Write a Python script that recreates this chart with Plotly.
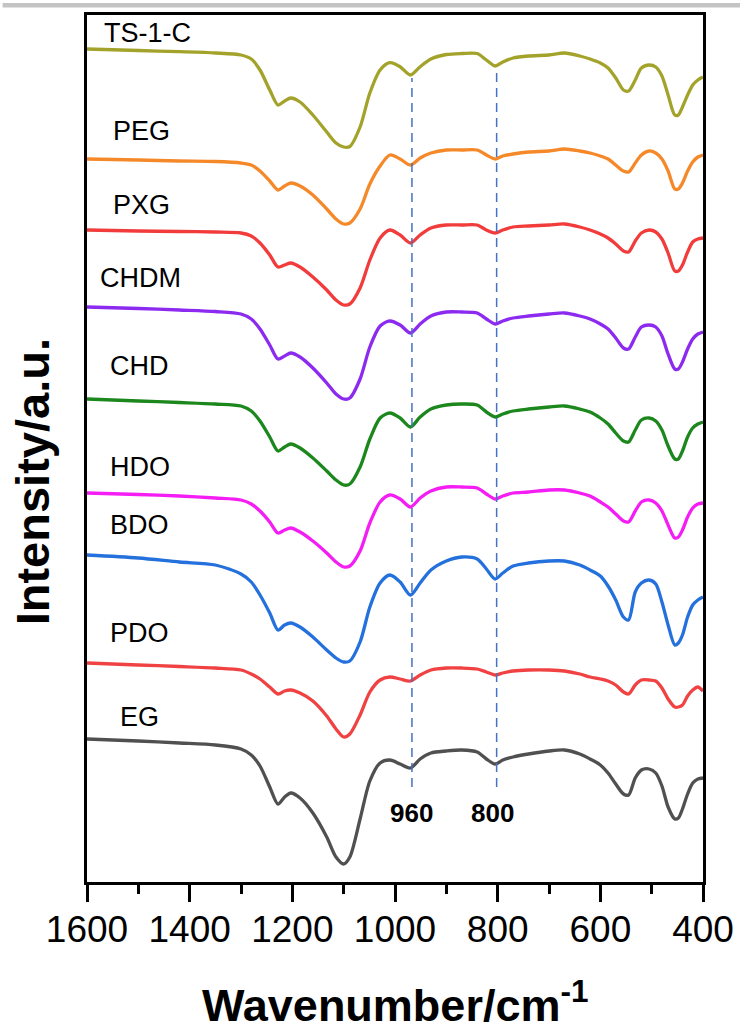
import plotly.graph_objects as go

# Wavenumber grid (cm^-1) shared by all spectra
wavenumber = [1600, 1500, 1420, 1350, 1300, 1280, 1263, 1244, 1228, 1215, 1203, 1185, 1160,
              1133, 1115, 1100, 1088, 1068, 1049, 1029, 1010, 990, 970, 951, 930, 900, 870,
              840, 822, 805, 790, 770, 740, 700, 670, 640, 620, 600, 585, 570, 555, 545,
              532, 520, 505, 492, 480, 468, 455, 448, 440, 430, 420, 410, 400]

# Spectra relative to their own level at 1600 cm^-1 (a.u.)
ts1c = [0, -1.5, -2.7, -4, -6, -10, -21, -41, -56, -52, -49, -53, -66,
        -83, -94, -98, -97.5, -78, -44, -21, -13.7, -17.7, -26, -17.7, -10, -5.5, -4.5,
        -4.5, -11, -17, -13, -9, -7, -6, -4, -7, -10, -14, -19, -29, -41, -42,
        -31, -19, -16, -18, -27, -46, -66, -66, -58, -46, -36, -31, -28]
peg = [0, -1, -2, -2.5, -4, -6, -12, -22, -31, -27, -24, -27, -36,
       -50, -60, -65, -64, -50, -25, -7, 4, 0, -6, 1, 6, 9, 9,
       9, 4, 0, 3, 5, 7, 8, 10, 8, 6, 3, 0, -6, -12, -13,
       -4, 4, 8, 6, 0, -12, -30, -30, -24, -12, -3, 2, 4]
pxg = [0, -1, -1.5, -2, -3, -6, -13, -25, -37, -35, -33, -37, -47,
       -60, -70, -75, -74, -58, -30, -8, 0, -5, -13, -5, 2, 5, 5,
       5, 0, -3, 0, 3, 4, 5, 6, 3, 0, -4, -8, -14, -21, -22,
       -11, -3, 0, -2, -9, -23, -41, -41, -35, -22, -12, -9, -8]
chdm = [0, -1.5, -3, -4.5, -7, -12, -22, -38, -52, -49, -46, -50, -61,
        -76, -87, -92, -91, -72, -40, -19, -14, -18, -26, -17, -9, -5, -5,
        -6, -12, -17, -14, -11, -9, -7, -6, -9, -12, -17, -22, -31, -41, -42,
        -30, -20, -18, -20, -29, -47, -62, -62, -55, -42, -32, -27, -25]
chd = [0, -2, -3.5, -5, -7, -12, -22, -38, -52, -48, -45, -49, -59,
       -72, -81, -86, -85, -68, -40, -19, -14, -19, -28, -18, -10, -6, -5,
       -6, -13, -18, -15, -12, -10, -8, -7, -10, -13, -19, -25, -34, -42, -43,
       -31, -21, -19, -22, -31, -47, -60, -60, -52, -38, -29, -25, -23]
hdo = [0, -1.5, -3, -5, -7, -11, -18, -29, -40, -37, -35, -39, -48,
       -60, -69, -74, -73, -58, -30, -9, -2, -6, -14, -5, 2, 6, 6,
       5, -1, -6, -3, 0, 1, 3, 3, 0, -3, -9, -14, -21, -28, -29,
       -18, -9, -7, -10, -18, -32, -45, -44, -37, -24, -15, -11, -10]
bdo = [0, -3, -7, -10, -19, -27, -40, -58, -75, -70, -68, -72, -82,
       -95, -103, -107, -106, -87, -52, -28, -20, -27, -40, -28, -15, -6, -2,
       -4, -14, -24, -18, -11, -8, -6, -6, -10, -15, -21, -31, -45, -62, -65,
       -37, -28, -25, -29, -47, -70, -90, -88, -80, -62, -50, -45, -42]
pdo = [0, -2, -3.5, -5, -7, -11, -16, -24, -31, -28, -27, -30, -38,
       -53, -66, -74, -71, -52, -29, -17, -14, -16, -18, -12, -7, -5, -5,
       -6, -9, -12, -10, -8, -7, -7, -8, -11, -14, -16, -18, -22, -29, -31,
       -22, -17, -17, -18, -25, -36, -44, -44, -42, -33, -27, -24, -28]
eg = [0, -2, -4, -6, -10, -16, -27, -48, -65, -58, -54, -59, -74,
      -98, -118, -125, -118, -80, -42, -24, -21, -25, -29, -20, -14, -12, -11,
      -13, -20, -25, -21, -18, -15, -12, -11, -15, -20, -26, -34, -45, -55, -56,
      -39, -31, -30, -34, -47, -68, -80, -79, -70, -55, -44, -40, -39]

names = ["TS-1-C", "PEG", "PXG", "CHDM", "CHD", "HDO", "BDO", "PDO", "EG"]
offsets = [833, 723, 652, 575, 483, 389, 327, 219, 143]
series = [ts1c, peg, pxg, chdm, chd, hdo, bdo, pdo, eg]
colors = ["#A3A32B", "#F5892A", "#F23C3C", "#8C2AF0", "#1C871C",
          "#F41EF4", "#2470DC", "#F04242", "#505050"]

# label anchor (left edge wavenumber, intensity)
label_pos = [(1571, 849), (1554, 751), (1554, 677), (1579, 604), (1559, 516),
             (1559, 415), (1559, 357), (1559, 249), (1540, 165)]

marker_lines = [967, 802]
marker_labels = ["960", "800"]
marker_text_x = [967, 811]

xticks = [1600, 1400, 1200, 1000, 800, 600, 400]

FONT = "Liberation Sans, Arial"

fig = go.Figure()
for name, rel, off, c in zip(names, series, offsets, colors):
    fig.add_trace(go.Scatter(x=wavenumber, y=[off + r for r in rel], mode="lines", name=name,
                             line=dict(color=c, width=3.3, shape="spline", smoothing=0.8),
                             showlegend=False))

# dashed guide lines
for xv, top in zip(marker_lines, [804, 814]):
    fig.add_trace(go.Scatter(x=[xv, xv], y=[95, top], mode="lines", showlegend=False,
                             line=dict(color="#4472C4", width=1.5, dash="9px,6px")))

annotations = []
for name, (lx, ly) in zip(names, label_pos):
    annotations.append(dict(x=lx, y=ly, xref="x", yref="y", text=name, showarrow=False,
                            xanchor="left", yanchor="middle",
                            font=dict(family=FONT, size=27, color="black")))
for tx, tl in zip(marker_text_x, marker_labels):
    annotations.append(dict(x=tx, y=69, xref="x", yref="y", text="<b>%s</b>" % tl,
                            showarrow=False, xanchor="center", yanchor="middle",
                            font=dict(family=FONT, size=26, color="black")))
annotations.append(dict(x=0.5, y=0, xref="paper", yref="paper",
                        text="<b>Wavenumber/cm<sup>-1</sup></b>", showarrow=False,
                        xanchor="center", yanchor="middle", yshift=-120,
                        font=dict(family=FONT, size=45, color="black")))
annotations.append(dict(x=0, y=0.461, xref="paper", yref="paper",
                        text="<b>Intensity/a.u.</b>", showarrow=False, textangle=-90,
                        xanchor="center", yanchor="middle", xshift=-55,
                        font=dict(family=FONT, size=47, color="black")))

fig.update_layout(
    width=740, height=1035,
    margin=dict(l=87, r=37, t=15, b=153, autoexpand=False),
    paper_bgcolor="white", plot_bgcolor="white",
    annotations=annotations,
    shapes=[dict(type="rect", xref="paper", yref="paper", x0=-0.137, x1=1.07,
                 y0=1.0087, y1=1.0138, fillcolor="#c4c4c4", line=dict(width=0))],
    xaxis=dict(range=[1600, 400], tickvals=xticks, ticktext=[str(t) for t in xticks],
               ticks="outside", ticklen=17, tickwidth=2.5, tickcolor="black",
               minor=dict(dtick=100, ticks="outside", ticklen=9, tickwidth=2.5,
                          tickcolor="black", tick0=400),
               showline=True, linewidth=2.5, linecolor="black", mirror=True,
               showgrid=False, zeroline=False, automargin=False, ticklabelstandoff=-4,
               tickfont=dict(family=FONT, size=37, color="black")),
    yaxis=dict(range=[0, 867], showticklabels=False, ticks="", showgrid=False,
               zeroline=False, showline=True, linewidth=2.5, linecolor="black",
               mirror=True, automargin=False),
)

fig.write_html("out.html", config={"displayModeBar": False},
               post_script="document.body.style.margin='0';document.body.style.overflow='hidden';")
